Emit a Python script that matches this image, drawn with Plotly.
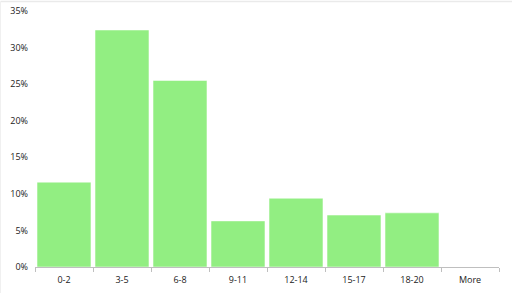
import plotly.graph_objects as go

categories = ["0-2", "3-5", "6-8", "9-11", "12-14", "15-17", "18-20", "More"]
shares = [0.116, 0.324, 0.255, 0.063, 0.094, 0.071, 0.074, 0.0]

W, H = 512, 293
L, R, T, B = 35, 13, 11, 26

fig = go.Figure(go.Bar(
    x=categories, y=shares,
    marker=dict(color="#92EE82", line=dict(color="white", width=0.5)),
))

pw = W - L - R
ph = H - T - B
fig.update_layout(
    width=W, height=H,
    margin=dict(l=L, r=R, t=T, b=B, autoexpand=False),
    paper_bgcolor="white", plot_bgcolor="white",
    bargap=0.07,
    showlegend=False,
    font=dict(family="Open Sans, Liberation Sans, sans-serif", size=9, color="#222222"),
    xaxis=dict(
        showline=True, linecolor="#BFBFBF", linewidth=1,
        ticks="outside", tickson="boundaries", ticklen=4, tickcolor="#BFBFBF",
        showgrid=False, tickfont=dict(size=9), ticklabelstandoff=4,
        automargin=False,
    ),
    yaxis=dict(
        range=[0, 0.35], dtick=0.05, tickformat=".0%",
        showgrid=False, showline=False, zeroline=False,
        ticks="", tickfont=dict(size=9), ticklabelstandoff=6,
        automargin=False,
    ),
    shapes=[
        dict(type="line", xref="paper", yref="paper",
             x0=-(L - 0.5) / pw, x1=1 + R / pw,
             y0=1 + (T - 1.5) / ph, y1=1 + (T - 1.5) / ph,
             line=dict(color="#EAEAEA", width=1.5)),
        dict(type="line", xref="paper", yref="paper",
             x0=-(L - 0.5) / pw, x1=-(L - 0.5) / pw,
             y0=-B / ph, y1=1 + (T - 1.5) / ph,
             line=dict(color="#F0F0F0", width=1)),
    ],
)

fig.write_html("out.html")
